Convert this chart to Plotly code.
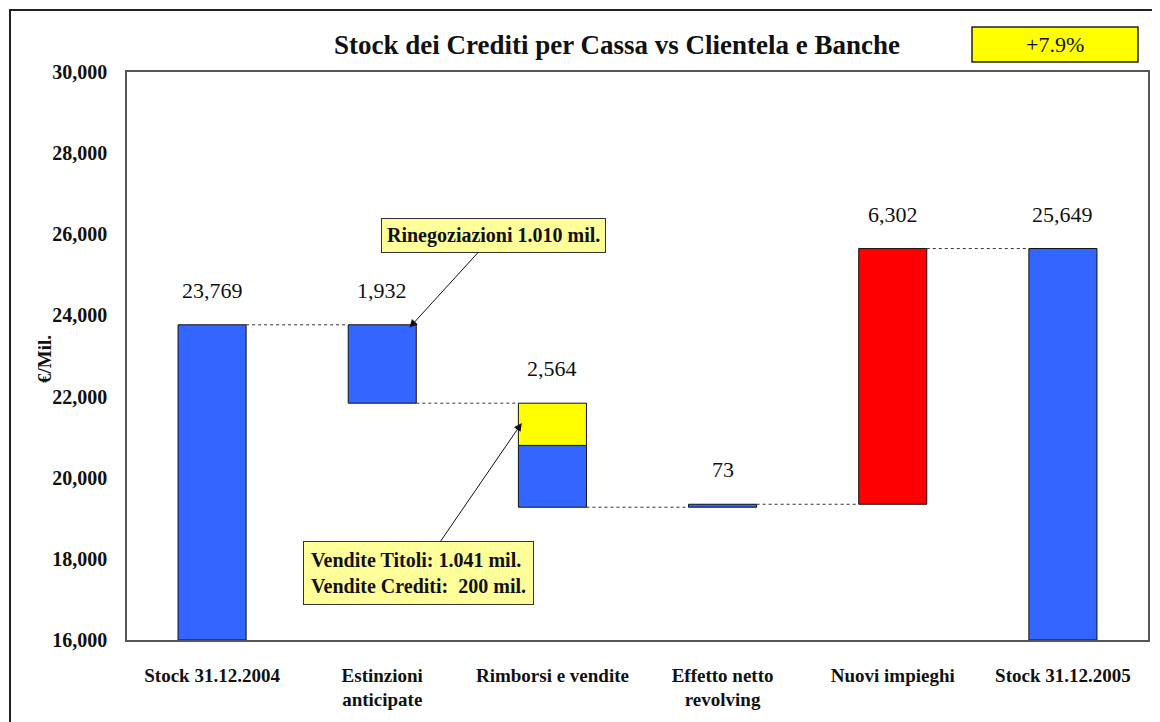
import plotly.graph_objects as go

# ---- data ----
categories = ["Stock 31.12.2004", "Estinzioni<br>anticipate", "Rimborsi e vendite",
              "Effetto netto<br>revolving", "Nuovi impieghi", "Stock 31.12.2005"]
start_stock = 23769
end_stock = 25649
deltas = [-1932, -2564, 73, 6302]          # Estinzioni, Rimborsi, Revolving, Nuovi impieghi
rimborsi_yellow = 1041                      # part of Rimborsi e vendite (Vendite Titoli)
value_labels = ["23,769", "1,932", "2,564", "73", "6,302", "25,649"]
y_min, y_max, y_step = 16000, 30000, 2000
growth_label = "+7.9%"
title_text = "Stock dei Crediti per Cassa vs Clientela e Banche"

# ---- derived levels ----
levels = [start_stock]
for d in deltas:
    levels.append(levels[-1] + d)
tops = [start_stock]
for i in range(len(deltas)):
    tops.append(max(levels[i], levels[i + 1]))
tops.append(end_stock)

BLUE = "#3366FF"
RED = "#FF0000"
YEL = "#FFFF00"
FONT = "Liberation Serif"
INK = "#111111"

fig = go.Figure()

blue_x = [0, 1, 2, 3, 5]
blue_base = [y_min, levels[1], levels[2], levels[2], y_min]
blue_h = [start_stock - y_min, -deltas[0], -deltas[1] - rimborsi_yellow, deltas[2], end_stock - y_min]
fig.add_trace(go.Bar(x=blue_x, y=blue_h, base=blue_base, width=0.4,
                     marker=dict(color=BLUE, line=dict(color=INK, width=1)),
                     hoverinfo="skip", showlegend=False))
fig.add_trace(go.Bar(x=[2], y=[rimborsi_yellow], base=[levels[1] - rimborsi_yellow], width=0.4,
                     marker=dict(color=YEL, line=dict(color=INK, width=1)),
                     hoverinfo="skip", showlegend=False))
fig.add_trace(go.Bar(x=[4], y=[deltas[3]], base=[levels[3]], width=0.4,
                     marker=dict(color=RED, line=dict(color=INK, width=1)),
                     hoverinfo="skip", showlegend=False))

# connectors
for i in range(5):
    fig.add_trace(go.Scatter(x=[i + 0.2, i + 0.8], y=[levels[i], levels[i]], mode="lines",
                             line=dict(color="#333333", width=1, dash="dot"),
                             hoverinfo="skip", showlegend=False))

# value labels
for i, t in enumerate(value_labels):
    fig.add_annotation(x=i, y=tops[i], text=t, showarrow=False, yanchor="bottom", xanchor="center",
                       yshift=20, font=dict(family=FONT, size=22, color=INK))

# callouts
fig.add_annotation(x=1.16, y=23700, ax=84, ay=-92, text="<b>Rinegoziazioni 1.010 mil.</b>",
                   showarrow=True, arrowhead=2, arrowsize=1.6, arrowwidth=1, arrowcolor=INK,
                   bgcolor="#FFFF99", bordercolor="#333333", borderwidth=1, borderpad=5,
                   font=dict(family=FONT, size=20, color=INK))
fig.add_annotation(x=1.82, y=21350, ax=-103, ay=150,
                   text="<b>Vendite Titoli: 1.041 mil.<br>Vendite Crediti:  200 mil.</b>",
                   align="left",
                   showarrow=True, arrowhead=2, arrowsize=1.6, arrowwidth=1, arrowcolor=INK,
                   bgcolor="#FFFF99", bordercolor="#333333", borderwidth=1, borderpad=7,
                   font=dict(family=FONT, size=20, color=INK))

# layout geometry (screen pixels -> paper); page body has an 8px margin
OX, OY = 8, 8
W, H = 1160, 722
L = 127 - OX
T = 72 - OY
R = W - (1148 - OX)
B = H - (640 - OY)
pw, ph = W - L - R, H - T - B
def px(sx): return (sx - OX - L) / pw
def py(sy): return (H - B - (sy - OY)) / ph

# title
fig.add_annotation(xref="paper", yref="paper", x=px(617), y=py(45), xanchor="center", yanchor="middle",
                   text="<b>" + title_text + "</b>",
                   showarrow=False, font=dict(family=FONT, size=27, color=INK))
# growth box
fig.add_shape(type="rect", xref="paper", yref="paper", x0=px(972), x1=px(1138), y0=py(62), y1=py(27),
              fillcolor=YEL, line=dict(color="#222222", width=1.5))
fig.add_annotation(xref="paper", yref="paper", x=px(1055), y=py(45), xanchor="center", yanchor="middle",
                   text=growth_label,
                   showarrow=False, font=dict(family=FONT, size=22, color=INK))
# y-axis title
fig.add_annotation(xref="paper", yref="paper", x=px(45), y=py(359), xanchor="center", yanchor="middle",
                   text="<b>€/Mil.</b>", textangle=-90,
                   showarrow=False, font=dict(family=FONT, size=19, color=INK))
# outer frame
fig.add_shape(type="rect", xref="paper", yref="paper", x0=px(10), x1=px(1200), y0=py(760), y1=py(10),
              line=dict(color="#222222", width=2), fillcolor="rgba(0,0,0,0)")

fig.update_layout(
    width=W, height=H, margin=dict(l=L, r=R, t=T, b=B),
    paper_bgcolor="white", plot_bgcolor="white", barmode="overlay",
    xaxis=dict(range=[-0.5, 5.5], tickvals=list(range(6)), ticktext=["<b>" + c + "</b>" for c in categories],
               showgrid=False, zeroline=False, showline=True, mirror=True, linecolor="#555555", linewidth=1.5,
               ticks="", ticklabelstandoff=17,
               tickfont=dict(family=FONT, size=19, color=INK)),
    yaxis=dict(range=[y_min, y_max], dtick=y_step, tickformat=",", showgrid=False, zeroline=False,
               showline=True, mirror=True, linecolor="#555555", linewidth=1.5, ticks="",
               ticklabelstandoff=14,
               tickfont=dict(family=FONT, size=20, color=INK, weight="bold")),
)

fig.write_html("out.html")
